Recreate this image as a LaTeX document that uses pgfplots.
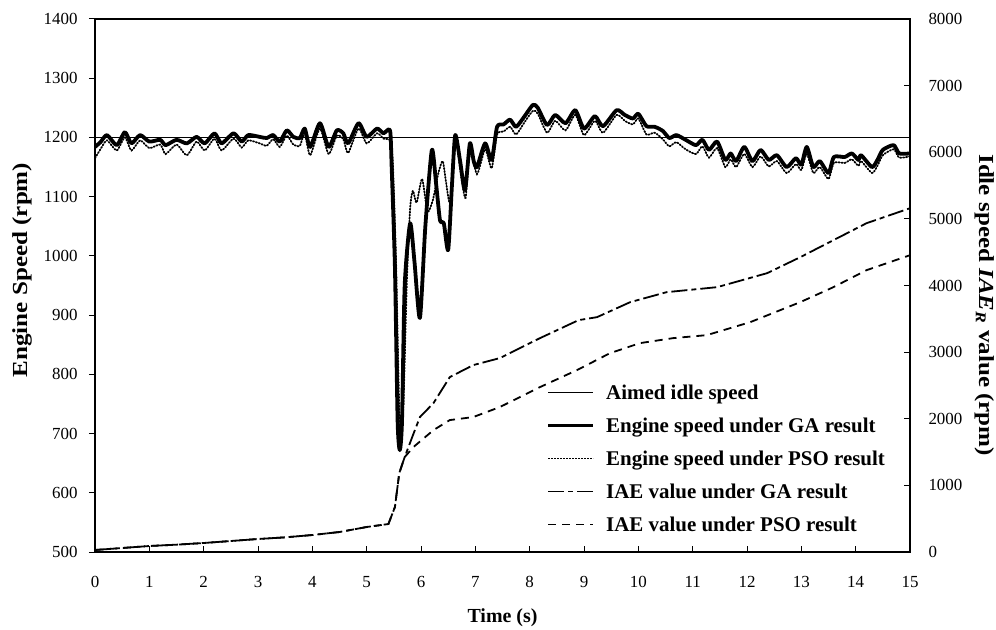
\documentclass[border=0pt]{standalone}
\usepackage{fontspec}
\setmainfont{Liberation Serif}
\newfontfamily\wide[FakeStretch=1.17]{Liberation Serif}
\usepackage{pgfplots}
\pgfplotsset{compat=1.18}

\pgfplotstableread{
t rpm
0 1184
0.1 1192
0.22 1204
0.4 1187
0.55 1209
0.67 1190
0.83 1204
1.0 1193
1.2 1196
1.3 1187
1.5 1196
1.69 1190
1.87 1201
2.02 1190
2.2 1207
2.33 1190
2.55 1207
2.7 1193
2.82 1204
3.03 1201
3.16 1199
3.28 1204
3.4 1193
3.53 1212
3.65 1201
3.77 1199
3.86 1215
3.96 1184
4.14 1224
4.3 1184
4.45 1212
4.57 1207
4.66 1190
4.85 1224
5.0 1201
5.19 1215
5.31 1207
5.43 1212
5.46 1150
5.52 981
5.57 720
5.61 672
5.65 720
5.7 950
5.8 1055
5.88 990
5.98 895
6.08 1050
6.2 1179
6.28 1120
6.35 1060
6.42 1055
6.5 1010
6.57 1120
6.63 1204
6.72 1160
6.81 1111
6.9 1190
6.97 1160
7.03 1150
7.18 1190
7.3 1162
7.4 1218
7.52 1222
7.64 1230
7.75 1218
7.9 1235
8.06 1255
8.15 1250
8.32 1221
8.47 1238
8.66 1224
8.84 1246
9.0 1215
9.2 1236
9.35 1219
9.6 1246
9.75 1238
9.9 1232
10.0 1240
10.15 1219
10.3 1218
10.45 1211
10.57 1199
10.7 1204
10.87 1196
11.06 1187
11.18 1196
11.3 1179
11.45 1193
11.6 1162
11.7 1173
11.8 1160
11.95 1184
12.1 1160
12.25 1179
12.4 1162
12.55 1170
12.73 1150
12.9 1165
13.0 1154
13.1 1184
13.22 1150
13.34 1160
13.5 1140
13.6 1167
13.8 1167
13.93 1173
14.05 1162
14.1 1170
14.3 1150
14.4 1162
14.5 1179
14.7 1187
14.8 1173
15.0 1173
}\gadata

\pgfplotstableread{
t rpm
0 1165
0.1 1180
0.22 1195
0.4 1178
0.55 1200
0.67 1178
0.83 1195
1.0 1182
1.2 1188
1.3 1172
1.5 1188
1.69 1170
1.87 1193
2.02 1178
2.2 1198
2.33 1178
2.55 1198
2.7 1183
2.82 1195
3.03 1190
3.16 1186
3.28 1197
3.4 1184
3.53 1203
3.65 1188
3.77 1186
3.86 1207
3.96 1170
4.14 1215
4.3 1172
4.45 1203
4.57 1197
4.66 1174
4.85 1215
5.0 1190
5.19 1207
5.31 1198
5.43 1195
5.48 1160
5.54 990
5.6 740
5.64 700
5.68 760
5.74 960
5.8 1080
5.85 1110
5.92 1090
6.02 1130
6.12 1075
6.22 1095
6.32 1140
6.4 1160
6.46 1125
6.53 1090
6.6 1160
6.65 1195
6.73 1140
6.82 1098
6.9 1180
7.03 1138
7.18 1180
7.3 1148
7.4 1205
7.52 1210
7.64 1218
7.75 1205
7.9 1225
8.06 1245
8.15 1240
8.32 1208
8.47 1228
8.66 1212
8.84 1238
9.0 1204
9.2 1228
9.35 1208
9.6 1238
9.75 1228
9.9 1222
10.0 1232
10.15 1205
10.3 1208
10.45 1197
10.57 1185
10.7 1192
10.87 1180
11.06 1172
11.18 1185
11.3 1166
11.45 1182
11.6 1150
11.7 1163
11.8 1150
11.95 1172
12.1 1150
12.25 1168
12.4 1151
12.55 1160
12.73 1140
12.9 1155
13.0 1145
13.1 1172
13.22 1140
13.34 1150
13.5 1130
13.6 1157
13.8 1157
13.93 1163
14.05 1152
14.1 1160
14.3 1140
14.4 1152
14.5 1170
14.7 1180
14.8 1166
15.0 1168
}\psodata

\pgfplotstableread{
t iae
0 30
0.5 60
1 90
1.5 110
2 135
2.5 165
3 195
3.5 220
4 255
4.5 300
5 375
5.4 420
5.52 675
5.6 1185
5.7 1425
5.85 1750
5.98 2025
6.23 2235
6.53 2625
6.96 2805
7.45 2910
8.19 3210
8.9 3480
9.24 3525
9.85 3750
10.52 3900
11.45 3975
12.37 4185
12.98 4425
13.59 4680
14.2 4935
15 5160
}\iaega

\pgfplotstableread{
t iae
0 30
0.5 60
1 90
1.5 110
2 135
2.5 165
3 195
3.5 220
4 255
4.5 300
5 375
5.4 420
5.52 675
5.6 1185
5.7 1425
5.86 1575
6.23 1830
6.53 1980
6.96 2025
7.45 2175
8.19 2475
8.87 2730
9.48 2985
10.03 3135
10.64 3210
11.26 3255
12.06 3450
12.98 3750
13.59 3975
14.2 4230
15 4455
}\iaepso

\begin{document}
\begin{tikzpicture}
\useasboundingbox (-95bp,-78bp) rectangle (901bp,552bp);
\begin{axis}[
  width=815bp, height=533bp, scale only axis,
  xmin=0, xmax=15, ymin=500, ymax=1400,
  xtick={0,1,...,15}, ytick={500,600,...,1400},
  xtick pos=bottom, ytick pos=left,
  tick align=inside,
  major tick length=6bp,
  ytick style={xshift=-6bp},
  tick style={black, line width=1bp},
  axis line style={line width=1.4bp},
  tick label style={font=\fontsize{17}{20}\selectfont},
  yticklabel style={xshift=-14bp},
  xticklabel style={yshift=-21bp},
  /pgf/number format/assume math mode=true,
  /pgf/number format/1000 sep={},
  scaled ticks=false,
  xlabel={\textbf{Time (s)}},
  xlabel style={at={(axis description cs:0.5,-0.124)}, anchor=center, font=\fontsize{20}{24}\selectfont},
  ylabel={\wide\bfseries Engine Speed (rpm)},
  ylabel style={at={(axis description cs:-0.0896,0.529)}, anchor=center, font=\fontsize{21.5}{24}\selectfont},
]
\addplot[black, line width=0.8bp] coordinates {(0,1200) (15,1200)};
\addplot[black, line width=1.8bp, dash pattern=on 1.2bp off 1.8bp, line cap=round, smooth, tension=0.4] table[x=t,y=rpm] {\psodata};
\addplot[black, line width=3.8bp, line join=round, smooth, tension=0.4] table[x=t,y=rpm] {\gadata};
\end{axis}
\begin{axis}[
  width=815bp, height=533bp, scale only axis,
  xmin=0, xmax=15, ymin=0, ymax=8000,
  axis y line*=right, axis x line=none,
  ytick={0,1000,...,8000},
  tick align=inside,
  major tick length=6bp,
  tick style={black, line width=1bp},
  axis line style={line width=1.4bp},
  tick label style={font=\fontsize{17}{20}\selectfont},
  yticklabel style={xshift=15bp},
  /pgf/number format/assume math mode=true,
  /pgf/number format/1000 sep={},
  scaled ticks=false,
  ylabel={\wide\bfseries Idle speed \textit{IAE}\textsubscript{\textit{R}} value (rpm)},
  ylabel style={at={(axis description cs:1.091,0.463)}, anchor=center, rotate=180, font=\fontsize{21.5}{24}\selectfont},
  legend style={at={(0.550,0.322)}, anchor=north west, draw=none, fill=none,
    font=\bfseries\fontsize{21}{24}\selectfont, row sep=13bp},
  legend cell align=left,
  legend image code/.code={\draw[#1] (0bp,0bp) -- (45bp,0bp); \path (54bp,0bp);},
]
\addlegendimage{black, line width=0.8bp}
\addlegendentry{Aimed idle speed}
\addlegendimage{black, line width=3.8bp}
\addlegendentry{Engine speed under GA result}
\addlegendimage{black, line width=1.8bp, dash pattern=on 1.2bp off 1.8bp}
\addlegendentry{Engine speed under PSO result}
\addplot[black, line width=1.8bp, dash pattern=on 16bp off 4bp on 5bp off 4bp] table[x=t,y=iae] {\iaega};
\addlegendentry{IAE value under GA result}
\addplot[black, line width=1.8bp, dash pattern=on 8bp off 6bp] table[x=t,y=iae] {\iaepso};
\addlegendentry{IAE value under PSO result}
\end{axis}
\end{tikzpicture}
\end{document}
